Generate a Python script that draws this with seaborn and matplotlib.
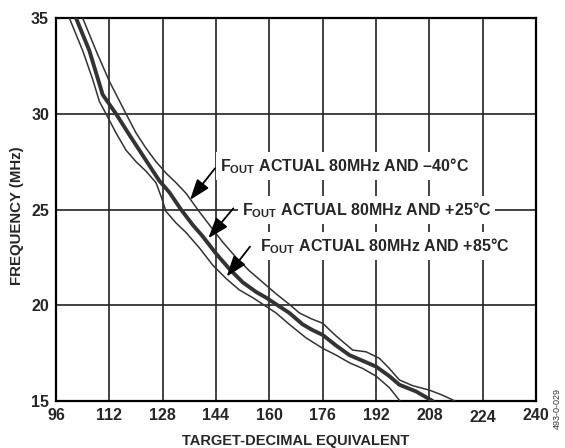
import matplotlib
matplotlib.use("Agg")
import matplotlib.pyplot as plt
import pandas as pd
import seaborn as sns

# target-decimal vs frequency
x_ticks = [96, 112, 128, 144, 160, 176, 192, 208, 224, 240]
y_ticks = [15, 20, 25, 30, 35]

minus40_x = [104, 108, 112, 117, 120, 123, 126, 129, 132, 135, 138.5, 142, 146, 150, 154, 158,
             162, 166, 169, 172.5, 176, 180, 185, 189, 193, 196, 199, 203, 208, 212, 215.7]
minus40_y = [35, 33.3, 31.7, 30.0, 29.0, 28.2, 27.5, 26.9, 26.4, 25.85, 25.0, 24.2, 23.3, 22.5, 21.8, 21.2,
             20.6, 20.05, 19.6, 19.3, 19.06, 18.4, 17.66, 17.57, 17.23, 16.7, 16.1, 15.8, 15.57, 15.3, 15.0]

plus25_x = [102, 106, 110, 114, 118, 121, 124, 127, 130, 133.5, 137, 140, 144, 148, 152, 156, 159,
            162.5, 166, 170, 173, 176, 180, 184, 188, 192, 196, 199, 204, 209]
plus25_y = [35, 33.3, 31.0, 30.0, 28.9, 28.1, 27.3, 26.5, 25.9, 25.0, 24.2, 23.6, 22.7, 21.9, 21.2, 20.7, 20.4,
            20.0, 19.6, 19.0, 18.7, 18.45, 17.9, 17.4, 17.1, 16.8, 16.3, 15.85, 15.5, 15.0]

plus85_x = [100, 104, 107, 109, 111, 114, 117, 120, 123, 126, 127.7, 129, 132, 135, 139, 143, 147,
            151, 155, 158.5, 162, 166, 171, 176, 180, 184, 188, 192, 196, 199.2]
plus85_y = [35, 33.3, 31.8, 30.65, 30.0, 29.0, 28.1, 27.5, 27.0, 26.4, 25.6, 24.9, 24.3, 23.8, 23.0, 22.1, 21.4,
            20.8, 20.4, 20.0, 19.6, 19.0, 18.3, 17.75, 17.4, 17.0, 16.7, 16.3, 15.7, 15.0]

labels = [r"$\mathbf{F_{OUT}}$ ACTUAL 80MHz AND –40°C",
          r"$\mathbf{F_{OUT}}$ ACTUAL 80MHz AND +25°C",
          r"$\mathbf{F_{OUT}}$ ACTUAL 80MHz AND +85°C"]
label_pos = [(145.2, 27.27), (151.7, 24.97), (157.2, 23.1)]
arrow_tail = [(143.7, 27.15), (149.2, 25.06), (154.2, 23.06)]
arrow_tip = [(136.2, 25.5), (141.7, 23.5), (147.2, 21.5)]

sns.set_style("white")
plt.rcParams["font.family"] = ["Liberation Sans", "DejaVu Sans"]
plt.rcParams["mathtext.fontset"] = "custom"
plt.rcParams["mathtext.bf"] = "Liberation Sans:bold"
plt.rcParams["mathtext.rm"] = "Liberation Sans:bold"

fig = plt.figure(figsize=(5.65, 4.48), dpi=100)
ax = fig.add_axes([0.0991, 0.1049, 0.8496, 0.8549])

for xs, ys, lw in [(minus40_x, minus40_y, 1.1), (plus25_x, plus25_y, 2.8), (plus85_x, plus85_y, 1.1)]:
    df = pd.DataFrame({"code": xs, "mhz": ys})
    sns.lineplot(data=df, x="code", y="mhz", sort=False, estimator=None,
                 color="#333333", linewidth=lw, ax=ax, zorder=4)

ax.set_xlim(96, 240)
ax.set_ylim(15, 35)
ax.set_xticks(x_ticks, [str(v) for v in x_ticks], fontsize=11.5, fontweight="bold")
ax.set_yticks(y_ticks, [str(v) for v in y_ticks], fontsize=11.5, fontweight="bold")
ax.grid(True, color="#222222", linewidth=1.2)
ax.set_axisbelow(True)
for s in ax.spines.values():
    s.set_color("black")
    s.set_linewidth(1.6)
ax.tick_params(length=0, pad=5)
ax.get_xticklabels()[8].set_y(-0.006)

ax.set_xlabel("TARGET-DECIMAL EQUIVALENT", fontsize=10.5, fontweight="bold", labelpad=6)
ax.set_ylabel("FREQUENCY (MHz)", fontsize=10.8, fontweight="bold")
ax.yaxis.set_label_coords(-0.066, 0.484)

for txt, pos, tail, tip in zip(labels, label_pos, arrow_tail, arrow_tip):
    ax.text(pos[0], pos[1], txt, fontsize=11.5, fontweight="bold", ha="left", va="center",
            zorder=3, bbox=dict(facecolor="white", edgecolor="none", pad=3))
    ax.annotate("", xy=tip, xytext=tail, zorder=5,
                arrowprops=dict(arrowstyle="-|>,head_length=0.7,head_width=0.25", color="black",
                                lw=1.3, mutation_scale=18, shrinkA=0, shrinkB=0))

fig.text(0.986, 0.089, "493-0-029", rotation=90, fontsize=6.5, color="#333333",
         ha="center", va="center")

fig.savefig("out.png", dpi=100)
